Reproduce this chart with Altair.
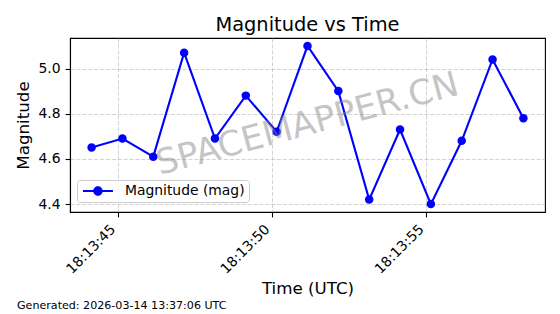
import altair as alt
import pandas as pd

times = [f"2026-03-14T18:13:{s:02d}.150Z" for s in range(44, 59)]
magnitudes = [4.65, 4.69, 4.61, 5.07, 4.69, 4.88, 4.72, 5.10, 4.90, 4.42,
              4.73, 4.40, 4.68, 5.04, 4.78]
series_name = "Magnitude (mag)"
y_ticks = [4.4, 4.6, 4.8, 5.0]
x_tick_seconds = [45, 50, 55]
footer_text = "Generated: 2026-03-14 13:37:06 UTC"
watermark_text = "SPACEMAPPER.CN"

df = pd.DataFrame({"time": times, "mag": magnitudes, "series": series_name})

FONT = "DejaVu Sans"
BLUE = "#0000ff"

def dt(sec, ms=0):
    return alt.DateTime(year=2026, month=3, date=14, hours=18, minutes=13,
                        seconds=sec, milliseconds=ms, utc=True)

x_enc = alt.X(
    "time:T",
    scale=alt.Scale(type="utc", domain=[dt(43, 450), dt(58, 850)], nice=False),
    axis=alt.Axis(
        title="Time (UTC)",
        values=[dt(s) for s in x_tick_seconds],
        labelExpr="utcFormat(datum.value, '%H:%M:%S')",
        labelAngle=315, labelAlign="right", labelBaseline="bottom",
        labelPadding=15, titlePadding=5, labelLimit=300,
        grid=True,
    ),
)
y_enc = alt.Y(
    "mag:Q",
    scale=alt.Scale(domain=[4.365, 5.135], nice=False, zero=False),
    axis=alt.Axis(title="Magnitude", values=y_ticks, format=".1f",
                  labelPadding=5, titlePadding=6, grid=True),
)

line = alt.Chart(df).mark_line(color=BLUE, strokeWidth=2.1).encode(x=x_enc, y=y_enc)

legend_path = ("M-1,-0.21H5V0.21H-1Z "
               "M1.05,0A0.95,0.95 0 1,1 2.95,0A0.95,0.95 0 1,1 1.05,0Z")

points = alt.Chart(df).mark_point(filled=True, size=72, opacity=1).encode(
    x=x_enc, y=y_enc,
    color=alt.Color(
        "series:N",
        scale=alt.Scale(domain=[series_name], range=[BLUE]),
        legend=alt.Legend(
            title=None, orient="none", legendX=7, legendY=142,
            symbolType=legend_path, symbolSize=100, symbolOpacity=1,
            labelOffset=30, labelFontSize=13.9, labelFont=FONT,
            labelColor="#000000",
            padding=4, fillColor="rgba(255,255,255,0.8)",
            strokeColor="#cccccc", cornerRadius=3,
        ),
    ),
)

wm_df = pd.DataFrame({"t": [watermark_text]})
watermark = alt.Chart(wm_df).mark_text(
    font=FONT, fontSize=34.7, angle=345, color="#808080", opacity=0.45,
    align="center", baseline="middle",
).encode(text="t:N", x=alt.value(237.5), y=alt.value(87))

foot_df = pd.DataFrame({"t": [footer_text]})
footer = alt.Chart(foot_df).mark_text(
    font=FONT, fontSize=11.1, color="#000000", align="left", baseline="alphabetic",
).encode(text="t:N", x=alt.value(-53), y=alt.value(271))

chart = alt.layer(line, points, watermark, footer).properties(
    width=475, height=174,
    background="white",
    autosize=alt.AutoSizeParams(type="none"),
    padding={"left": 70, "top": 38, "right": 15, "bottom": 102},
    title=alt.TitleParams("Magnitude vs Time", font=FONT, fontSize=19.4,
                          fontWeight="normal", color="#000000",
                          anchor="middle", offset=4, dy=16, baseline="alphabetic"),
).configure_view(
    stroke="#000000", strokeWidth=1.1
).configure_axis(
    labelFont=FONT, labelFontSize=13.9, labelColor="#000000",
    titleFont=FONT, titleFontSize=16.7, titleFontWeight="normal", titleColor="#000000",
    domainColor="#000000", domainWidth=1.1,
    tickColor="#000000", tickWidth=1.1, tickSize=4.9,
    gridColor="#b0b0b0", gridOpacity=0.7, gridDash=[4.1, 1.8], gridWidth=0.8,
)

chart.save("out.html", embed_options={"renderer": "svg", "actions": False})
